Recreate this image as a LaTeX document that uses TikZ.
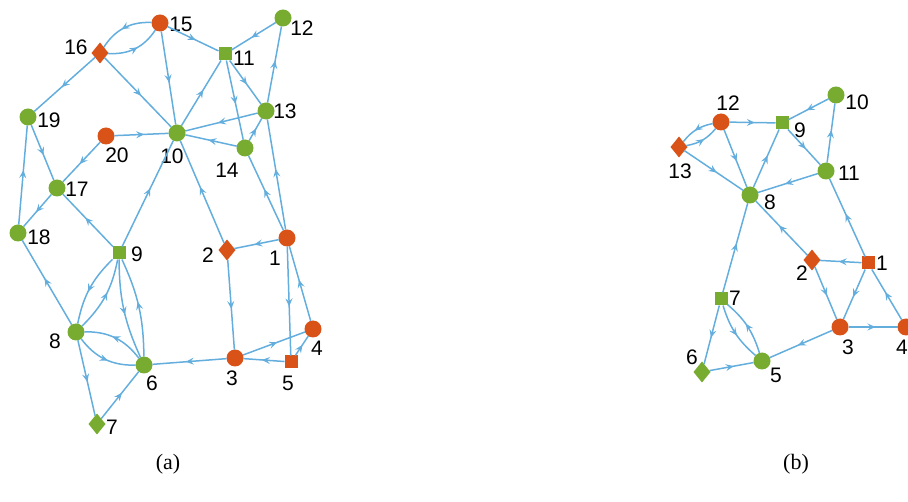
\documentclass[tikz,border=0pt]{standalone}
\usepackage{fontspec}
\setmainfont{Liberation Serif}
\newfontfamily\numfont{Liberation Sans}
\usetikzlibrary{shapes.geometric,decorations.markings,arrows.meta}
\definecolor{nodegreen}{RGB}{119,172,48}
\definecolor{nodeorange}{RGB}{217,83,25}
\definecolor{edgeblue}{RGB}{100,174,222}
\tikzset{
  vtx/.style={inner sep=0pt, outer sep=0pt},
  gc/.style={vtx, circle, fill=nodegreen, minimum size=17pt},
  oc/.style={vtx, circle, fill=nodeorange, minimum size=17pt},
  gs/.style={vtx, rectangle, fill=nodegreen, minimum size=13pt},
  os/.style={vtx, rectangle, fill=nodeorange, minimum size=13pt},
  gd/.style={vtx, diamond, fill=nodegreen, minimum width=17pt, minimum height=21pt},
  od/.style={vtx, diamond, fill=nodeorange, minimum width=17pt, minimum height=21pt},
  lab/.style={font=\numfont\fontsize{21}{21}\selectfont, inner sep=0pt},
  num/.style n args={3}{label={[lab, xshift=#2pt, yshift={-1pt*(#3)}]center:#1}},
  link/.style={color=edgeblue, line width=1.5pt, postaction={decorate},
    decoration={markings, mark=at position 0.55 with {\arrow{Stealth[length=8pt,width=7pt,inset=3pt]}}}},
  caption/.style={font=\fontsize{22}{22}\selectfont, inner sep=0pt}
}
\begin{document}
\begin{tikzpicture}[x=1pt, y=-1pt]
  \useasboundingbox (0,0) rectangle (908,502);
  % graph (a): nodes
  \node[oc, num={1}{-12}{20}]  (a1)  at (287,238) {};
  \node[od, num={2}{-19}{5}]   (a2)  at (227,250) {};
  \node[oc, num={3}{-3}{20}]   (a3)  at (235,358) {};
  \node[oc, num={4}{4}{19}]    (a4)  at (313,329) {};
  \node[os, num={5}{-3}{21}]   (a5)  at (291,362) {};
  \node[gc, num={6}{8}{18}]    (a6)  at (144,365) {};
  \node[gd, num={7}{15}{3}]    (a7)  at (97,424) {};
  \node[gc, num={8}{-21}{9}]   (a8)  at (76,332) {};
  \node[gs, num={9}{18}{1}]    (a9)  at (119,253) {};
  \node[gc, num={10}{-5}{23}]  (a10) at (177,133) {};
  \node[gs, num={11}{19}{4}]   (a11) at (225,54) {};
  \node[gc, num={12}{19}{10}]  (a12) at (283,18) {};
  \node[gc, num={13}{19}{0}]   (a13) at (266,111) {};
  \node[gc, num={14}{-18}{22}] (a14) at (245,148) {};
  \node[oc, num={15}{21}{1}]   (a15) at (160,23) {};
  \node[od, num={16}{-24}{-6}] (a16) at (100,53) {};
  \node[gc, num={17}{20}{1}]   (a17) at (57,188) {};
  \node[gc, num={18}{21}{4}]   (a18) at (18,233) {};
  \node[gc, num={19}{21}{3}]   (a19) at (28,117) {};
  \node[oc, num={20}{11}{19}]  (a20) at (106,136) {};
  % graph (a): edges
  \foreach \s/\t in {a15/a11, a15/a10, a16/a10, a16/a19, a12/a11, a10/a11,
      a11/a14, a11/a13, a13/a12, a13/a10, a14/a13, a14/a10, a20/a10,
      a20/a17, a19/a17, a18/a19, a17/a18, a9/a17, a9/a10, a2/a10, a1/a14,
      a1/a13, a1/a2, a2/a3, a1/a5, a4/a1, a3/a4, a5/a4, a5/a3, a3/a6,
      a7/a6, a8/a7, a8/a18}
    \draw[link] (\s) -- (\t);
  % graph (a): pairs of opposite edges
  \foreach \s/\t/\b in {a15/a16/30, a16/a15/30, a6/a8/27, a8/a6/27,
      a9/a8/17, a8/a9/17, a9/a6/12, a6/a9/12}
    \draw[link] (\s) to[bend right=\b] (\t);
  % graph (b): nodes
  \node[os, num={1}{14}{0}]    (b1)  at (868,263) {};
  \node[od, num={2}{-10}{13}]  (b2)  at (812,260) {};
  \node[oc, num={3}{8}{20}]    (b3)  at (840,327) {};
  \node[oc, num={4}{-4}{20}]   (b4)  at (906,327) {};
  \node[gc, num={5}{14}{14}]   (b5)  at (762,361) {};
  \node[gd, num={6}{-10}{-15}] (b6)  at (702,372) {};
  \node[gs, num={7}{14}{-1}]   (b7)  at (721,299) {};
  \node[gc, num={8}{20}{7}]    (b8)  at (750,195) {};
  \node[gs, num={9}{18}{7}]    (b9)  at (782,123) {};
  \node[gc, num={10}{21}{7}]   (b10) at (836,95) {};
  \node[gc, num={11}{23}{2}]   (b11) at (826,171) {};
  \node[oc, num={12}{7}{-19}]  (b12) at (721,122) {};
  \node[od, num={13}{1}{24}]   (b13) at (679,147) {};
  % graph (b): edges
  \foreach \s/\t in {b12/b9, b10/b9, b12/b8, b13/b8, b8/b9, b9/b11,
      b11/b10, b11/b8, b1/b11, b1/b2, b2/b8, b2/b3, b1/b3, b4/b1, b3/b4,
      b3/b5, b6/b5, b7/b6, b7/b8}
    \draw[link] (\s) -- (\t);
  % graph (b): pairs of opposite edges
  \foreach \s/\t/\b in {b12/b13/20, b13/b12/20, b7/b5/16, b5/b7/16}
    \draw[link] (\s) to[bend right=\b] (\t);
  % captions
  \node[caption] (capa) at (168,464) {(a)};
  \node[caption] (capb) at (796,464) {(b)};
\end{tikzpicture}
\end{document}
